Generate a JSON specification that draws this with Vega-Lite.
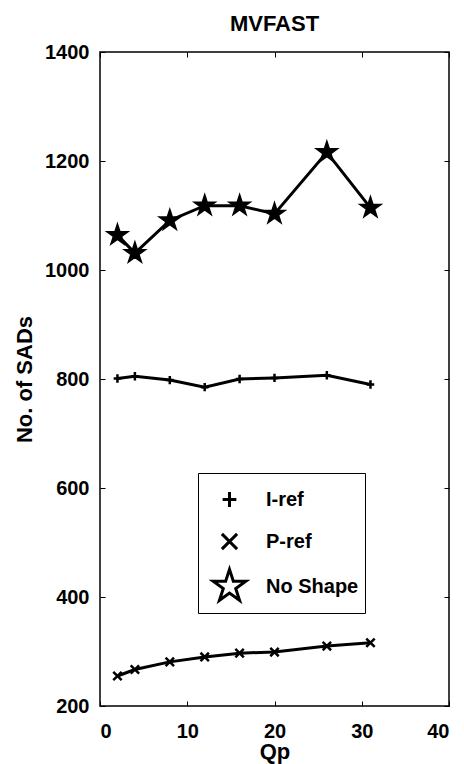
{
  "$schema": "https://vega.github.io/schema/vega-lite/v6.json",
  "autosize": {"type": "none"},
  "padding": {"left": 100, "top": 52, "right": 15, "bottom": 58},
  "width": 349,
  "height": 654,
  "background": "white",
  "config": {
    "font": "Liberation Sans",
    "view": {"stroke": "black", "strokeWidth": 1.5},
    "axis": {
      "labelFont": "Liberation Sans",
      "labelFontWeight": "bold",
      "labelFontSize": 20,
      "labelColor": "black",
      "titleFont": "Liberation Sans",
      "titleFontWeight": "bold",
      "titleFontSize": 22,
      "titleColor": "black",
      "grid": false,
      "domain": false,
      "tickColor": "black",
      "tickWidth": 1,
      "tickSize": -5
    }
  },
  "title": {
    "text": "MVFAST",
    "font": "Liberation Sans",
    "fontSize": 22,
    "fontWeight": "bold",
    "color": "black",
    "anchor": "middle",
    "baseline": "alphabetic",
    "offset": -5,
    "dy": 6
  },
  "data": {
    "values": [
      {"Qp": 2, "SADs": 801, "series": "I-ref"},
      {"Qp": 4, "SADs": 805, "series": "I-ref"},
      {"Qp": 8, "SADs": 798, "series": "I-ref"},
      {"Qp": 12, "SADs": 785, "series": "I-ref"},
      {"Qp": 16, "SADs": 800, "series": "I-ref"},
      {"Qp": 20, "SADs": 802, "series": "I-ref"},
      {"Qp": 26, "SADs": 807, "series": "I-ref"},
      {"Qp": 31, "SADs": 790, "series": "I-ref"},
      {"Qp": 2, "SADs": 255, "series": "P-ref"},
      {"Qp": 4, "SADs": 267, "series": "P-ref"},
      {"Qp": 8, "SADs": 281, "series": "P-ref"},
      {"Qp": 12, "SADs": 290, "series": "P-ref"},
      {"Qp": 16, "SADs": 297, "series": "P-ref"},
      {"Qp": 20, "SADs": 299, "series": "P-ref"},
      {"Qp": 26, "SADs": 310, "series": "P-ref"},
      {"Qp": 31, "SADs": 316, "series": "P-ref"},
      {"Qp": 2, "SADs": 1064, "series": "No Shape"},
      {"Qp": 4, "SADs": 1031, "series": "No Shape"},
      {"Qp": 8, "SADs": 1091, "series": "No Shape"},
      {"Qp": 12, "SADs": 1118, "series": "No Shape"},
      {"Qp": 16, "SADs": 1118, "series": "No Shape"},
      {"Qp": 20, "SADs": 1103, "series": "No Shape"},
      {"Qp": 26, "SADs": 1216, "series": "No Shape"},
      {"Qp": 31, "SADs": 1114, "series": "No Shape"}
    ]
  },
  "layer": [
    {
      "mark": {"type": "line", "strokeWidth": 3},
      "encoding": {
        "x": {
          "field": "Qp", "type": "quantitative",
          "scale": {"domain": [0, 40], "nice": false},
          "axis": {"orient": "bottom", "values": [0, 10, 20, 30, 40], "format": "d", "title": "Qp", "labelPadding": 20, "titleY": 52, "titleBaseline": "alphabetic"}
        },
        "y": {
          "field": "SADs", "type": "quantitative",
          "scale": {"domain": [200, 1400], "nice": false},
          "axis": {"orient": "left", "values": [200, 400, 600, 800, 1000, 1200, 1400], "format": "d", "title": "No. of SADs", "labelPadding": 16, "titleX": -76, "titleBaseline": "middle", "titleAngle": -90}
        },
        "color": {
          "field": "series", "type": "nominal",
          "scale": {"domain": ["I-ref", "P-ref", "No Shape"], "range": ["black", "black", "black"]},
          "legend": {
            "orient": "none",
            "legendX": 98,
            "legendY": 421,
            "title": null,
            "strokeColor": "black",
            "fillColor": "white",
            "padding": 6,
            "symbolType": "stroke",
            "symbolSize": 1444,
            "symbolStrokeWidth": 3,
            "symbolOffset": 5,
            "labelOffset": 16,
            "labelFont": "Liberation Sans",
            "labelFontSize": 20,
            "labelFontWeight": "bold",
            "labelColor": "black",
            "rowPadding": 7
          }
        }
      }
    },
    {
      "mark": {"type": "point", "filled": true, "fill": "black", "stroke": "black", "strokeWidth": 2.5, "size": 441, "opacity": 1},
      "encoding": {
        "x": {
          "field": "Qp", "type": "quantitative",
          "axis": {"orient": "top", "values": [0, 10, 20, 30, 40], "labels": false, "title": null}
        },
        "y": {
          "field": "SADs", "type": "quantitative",
          "axis": {"orient": "right", "values": [200, 400, 600, 800, 1000, 1200, 1400], "labels": false, "title": null}
        },
        "shape": {
          "field": "series", "type": "nominal",
          "scale": {
            "domain": ["I-ref", "P-ref", "No Shape"],
            "range": [
              "M-0.36,0H0.36M0,-0.4V0.4",
              "M-0.4,-0.4L0.4,0.4M-0.4,0.4L0.4,-0.4",
              "M0,-0.9L0.202,-0.278L0.856,-0.278L0.327,0.106L0.529,0.728L0,0.344L-0.529,0.728L-0.327,0.106L-0.856,-0.278L-0.202,-0.278Z"
            ]
          },
          "legend": null
        }
      }
    }
  ],
  "resolve": {"axis": {"x": "independent", "y": "independent"}}
}
